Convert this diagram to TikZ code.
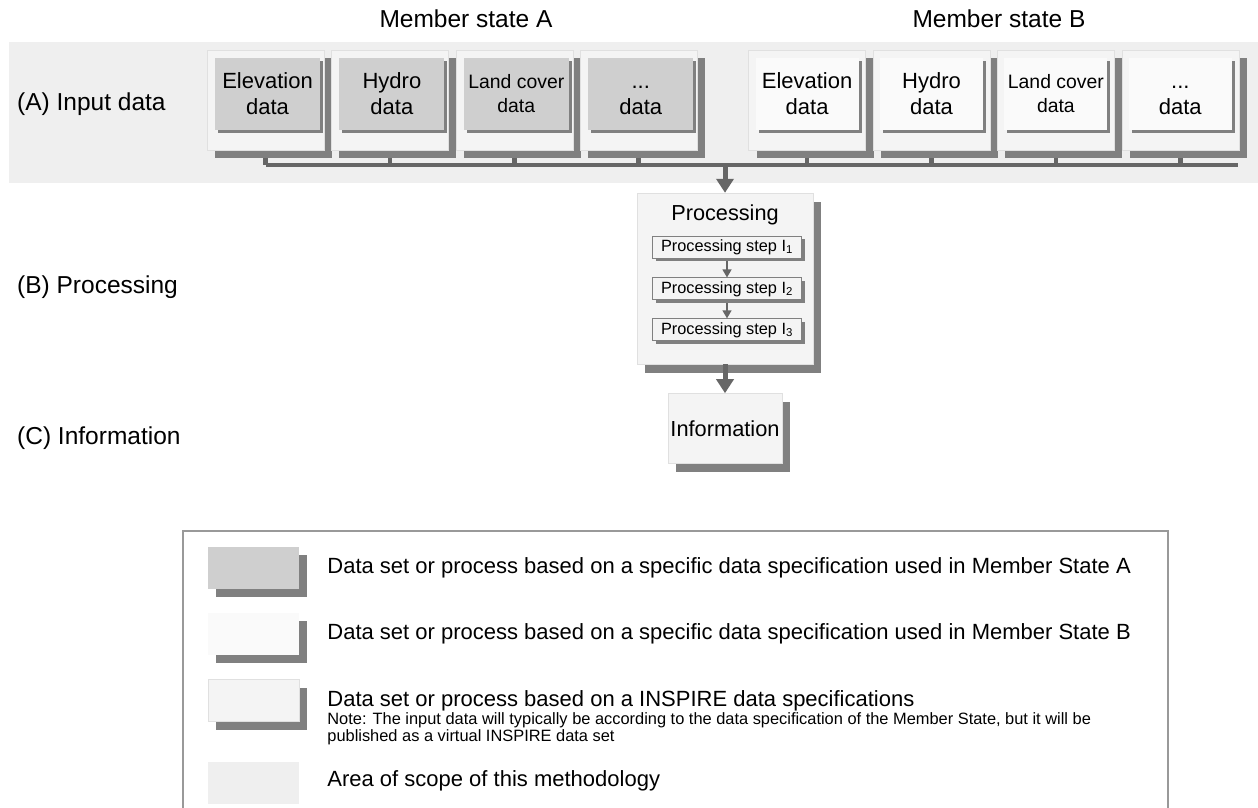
\documentclass[tikz,border=0pt]{standalone}
\usepackage{fontspec}
\setmainfont{Liberation Sans}
\usetikzlibrary{positioning, shadows, arrows.meta}
\definecolor{bandfill}{HTML}{EFEFEF}
\definecolor{grayA}{HTML}{CFCFCF}
\definecolor{whiteB}{HTML}{FAFAFA}
\definecolor{inspirefill}{HTML}{F4F4F4}
\definecolor{inspireline}{HTML}{E0E0E0}
\definecolor{shadowfill}{HTML}{808080}
\definecolor{connector}{HTML}{666666}
\definecolor{legendline}{HTML}{999999}

\begin{document}
\begin{tikzpicture}[x=1pt, y=-1pt,
    dataframe/.style={rectangle, draw=inspireline, fill=inspirefill, minimum width=117pt, minimum height=100pt, inner sep=0pt, drop shadow={shadow xshift=8pt, shadow yshift=-8pt, fill=shadowfill, opacity=1}},
    dataA/.style={rectangle, fill=grayA, minimum width=105pt, minimum height=72pt, inner sep=0pt, align=center, font=\fontsize{22}{26}\selectfont, drop shadow={shadow xshift=3pt, shadow yshift=-3pt, fill=shadowfill, opacity=1}},
    dataB/.style={dataA, fill=whiteB, minimum width=103pt},
    smalltext/.style={font=\fontsize{19.4}{24}\selectfont},
    rowlabel/.style={anchor=west, inner sep=0pt, font=\fontsize{24.5}{28}\selectfont},
    procbox/.style={rectangle, draw=inspireline, fill=inspirefill, inner sep=0pt, drop shadow={shadow xshift=8pt, shadow yshift=-9pt, fill=shadowfill, opacity=1}},
    stepbox/.style={rectangle, draw=shadowfill, line width=0.9pt, fill=inspirefill, minimum width=149pt, minimum height=22pt, inner sep=0pt, font=\fontsize{16.3}{18}\selectfont, drop shadow={shadow xshift=3pt, shadow yshift=-3pt, fill=shadowfill, opacity=1}},
    keybox/.style={rectangle, minimum width=91pt, minimum height=42pt, inner sep=0pt},
    keytext/.style={inner sep=0pt, font=\fontsize{22}{26}\selectfont},
    bus/.style={draw=connector, line width=4.5pt},
    bigarrow/.style={draw=connector, line width=5pt, -{Triangle[width=17pt,length=14pt]}},
    smallarrow/.style={draw=connector, line width=1.3pt, -{Triangle[width=9pt,length=8pt]}}]
    \useasboundingbox (0,0) rectangle (1258,807);
    % Area of scope
    \fill[bandfill] (9,42) rectangle (1258,183);
    % Titles and row labels
    \node (titleA) [font=\fontsize{24.5}{28}\selectfont] at (466,19) {Member state A};
    \node (titleB) [font=\fontsize{24.5}{28}\selectfont] at (999,19) {Member state B};
    \node (rowA) [rowlabel] at (17,104) {(A) Input data};
    \node (rowB) [rowlabel] at (17,287) {(B) Processing};
    \node (rowC) [rowlabel] at (17,438) {(C) Information};
    % Input data of member state A
    \node (frameAelev) [dataframe] at (265.5,100) {};
    \node (frameAhydro) [dataframe, right=7pt of frameAelev] {};
    \node (frameAland) [dataframe, right=7pt of frameAhydro] {};
    \node (frameAmore) [dataframe, right=7pt of frameAland] {};
    \node (elevA) [dataA, below right=8pt and 8pt of frameAelev.north west] {Elevation\\data};
    \node (hydroA) [dataA, below right=8pt and 8pt of frameAhydro.north west] {Hydro\\data};
    \node (landA) [dataA, smalltext, below right=8pt and 8pt of frameAland.north west] {Land cover\\data};
    \node (moreA) [dataA, below right=8pt and 8pt of frameAmore.north west] {\vphantom{E}...\\data};
    % Input data of member state B
    \node (frameBelev) [dataframe, right=51pt of frameAmore] {};
    \node (frameBhydro) [dataframe, right=7pt of frameBelev] {};
    \node (frameBland) [dataframe, right=7pt of frameBhydro] {};
    \node (frameBmore) [dataframe, right=7pt of frameBland] {};
    \node (elevB) [dataB, below right=8pt and 7pt of frameBelev.north west] {Elevation\\data};
    \node (hydroB) [dataB, below right=8pt and 7pt of frameBhydro.north west] {Hydro\\data};
    \node (landB) [dataB, smalltext, below right=8pt and 7pt of frameBland.north west] {Land cover\\data};
    \node (moreB) [dataB, below right=8pt and 7pt of frameBmore.north west] {\vphantom{E}...\\data};
    % Collecting line
    \coordinate (busL) at (265.5,165);
    \coordinate (busR) at (1238,165);
    \draw[bus] (busL) -- (busR);
    \draw[bus] ([yshift=-8pt]frameAelev.south) -- (frameAelev.south |- busL);
    \draw[bus] ([yshift=-8pt]frameAhydro.south) -- (frameAhydro.south |- busL);
    \draw[bus] ([yshift=-8pt]frameAland.south) -- (frameAland.south |- busL);
    \draw[bus] ([yshift=-8pt]frameAmore.south) -- (frameAmore.south |- busL);
    \draw[bus] ([yshift=-8pt]frameBelev.south) -- (frameBelev.south |- busL);
    \draw[bus] ([yshift=-8pt]frameBhydro.south) -- (frameBhydro.south |- busL);
    \draw[bus] ([yshift=-8pt]frameBland.south) -- (frameBland.south |- busL);
    \draw[bus] ([yshift=-8pt]frameBmore.south) -- (frameBmore.south |- busL);
    % Processing
    \node (proc) [procbox, minimum width=176pt, minimum height=171pt] at (725,278.5) {};
    \node (proctitle) [font=\fontsize{21.7}{24}\selectfont] at ([yshift=-22pt]proc.north) {Processing};
    \node (step1) [stepbox] at (727,247) {Processing step I\textsubscript{1}};
    \node (step2) [stepbox, below=19pt of step1] {Processing step I\textsubscript{2}};
    \node (step3) [stepbox, below=18pt of step2] {Processing step I\textsubscript{3}};
    \draw[smallarrow] ([yshift=-3pt]step1.south) -- (step2.north);
    \draw[smallarrow] ([yshift=-3pt]step2.south) -- (step3.north);
    \node (info) [procbox, minimum width=114pt, minimum height=70pt, font=\fontsize{21.8}{24}\selectfont, below=29pt of proc] {Information};
    \draw[bigarrow] (proc.north |- busL) -- (proc.north);
    \draw[bigarrow] (proc.south) -- (info.north);
    % Legend
    \draw[legendline, line width=1.3pt] (183,531) rectangle (1168,815);
    \node (keyA) [keybox, fill=grayA, drop shadow={shadow xshift=8pt, shadow yshift=-8pt, fill=shadowfill, opacity=1}] at (253.5,568) {};
    \node (keyB) [keybox, fill=whiteB, drop shadow={shadow xshift=8pt, shadow yshift=-8pt, fill=shadowfill, opacity=1}] at (253.5,634) {};
    \node (keyI) [keybox, fill=inspirefill, draw=inspireline, drop shadow={shadow xshift=8pt, shadow yshift=-8pt, fill=shadowfill, opacity=1}] at (253.5,700.5) {};
    \node (keyS) [keybox, fill=bandfill] at (253.5,783) {};
    \node (textA) [keytext, right=28pt of keyA] {Data set or process based on a specific data specification used in Member State A};
    \node (textB) [keytext, right=28pt of keyB] {Data set or process based on a specific data specification used in Member State B};
    \node (textI) [keytext, right=28pt of keyI] {Data set or process based on a INSPIRE data specifications};
    \node (noteI) [inner sep=0pt, align=left, font=\fontsize{16.4}{17}\selectfont, below=1pt of textI.south west, anchor=north west] {Note: The input data will typically be according to the data specification of the Member State, but it will be\\published as a virtual INSPIRE data set};
    \node (textS) [keytext, right=28pt of keyS, yshift=2pt] {Area of scope of this methodology};
\end{tikzpicture}
\end{document}
